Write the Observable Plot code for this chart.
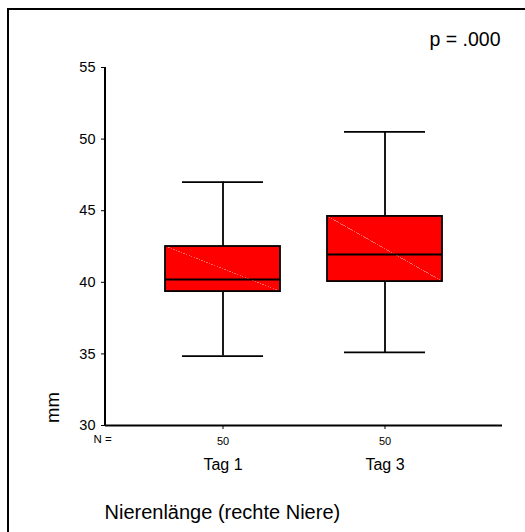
<!DOCTYPE html>
<html>
<head>
<meta charset="utf-8">
<script src="https://cdn.jsdelivr.net/npm/d3@7"></script>
<script src="https://cdn.jsdelivr.net/npm/@observablehq/plot@0.6"></script>
<style>
  html, body { margin: 0; padding: 0; background: #fff; }
  body { width: 525px; height: 532px; overflow: hidden; position: relative; font-family: "Liberation Sans", Arial, sans-serif; }
  #border { position: absolute; left: 7px; top: 8px; width: 540px; height: 560px; border: 2px solid #000; box-sizing: border-box; }
  #chart { position: absolute; left: 0; top: 0; }
</style>
</head>
<body>
<div id="border"></div>
<div id="chart"></div>
<script>
// Data
const groups   = ["Tag 1", "Tag 3"];
const nCounts  = [50, 50];
const whiskLow = [34.85, 35.1];
const q1       = [39.35, 40.05];
const medians  = [40.2, 41.95];
const q3       = [42.5, 44.6];
const whiskHigh= [47.0, 50.5];
const yTicks   = [30, 35, 40, 45, 50, 55];
const pLabel   = "p = .000";
const yLabel   = "mm";
const xTitle   = "Nierenlänge (rechte Niere)";

const rows = groups.map((g, i) => ({
  group: g, n: nCounts[i], lo: whiskLow[i], q1: q1[i], med: medians[i], q3: q3[i], hi: whiskHigh[i]
}));
const nByGroup = new Map(groups.map((g, i) => [g, nCounts[i]]));

const font = "Liberation Sans, Arial, sans-serif";

const axisLines = (index, scales, values, dims) => {
  const g = d3.create("svg:g");
  const x0 = dims.marginLeft;
  g.append("line")
    .attr("x1", x0).attr("x2", x0)
    .attr("y1", scales.y(55)).attr("y2", scales.y(30))
    .attr("stroke", "#000").attr("stroke-width", 2);
  return g.node();
};

const plot = Plot.plot({
  width: 525,
  height: 532,
  marginLeft: 105,
  marginRight: 23,
  marginTop: 67,
  marginBottom: 107,
  style: { fontFamily: font, background: "transparent", overflow: "visible" },
  x: { type: "band", domain: groups, paddingInner: 0.288, paddingOuter: 0.362 },
  y: { domain: [30, 55] },
  marks: [
    // whiskers
    Plot.ruleX(rows, { x: "group", y1: "lo", y2: "q1", stroke: "#000", strokeWidth: 1.8 }),
    Plot.ruleX(rows, { x: "group", y1: "q3", y2: "hi", stroke: "#000", strokeWidth: 1.8 }),
    Plot.tickY(rows, { x: "group", y: "lo", stroke: "#000", strokeWidth: 1.8, inset: 17 }),
    Plot.tickY(rows, { x: "group", y: "hi", stroke: "#000", strokeWidth: 1.8, inset: 17 }),
    // boxes
    Plot.barY(rows, { x: "group", y1: "q1", y2: "q3", fill: "url(#diagfill)", stroke: "#000", strokeWidth: 1.8 }),
    Plot.tickY(rows, { x: "group", y: "med", stroke: "#000", strokeWidth: 2 }),
    // axes
    Plot.ruleY([30], { stroke: "#000", strokeWidth: 2 }),
    axisLines,
    Plot.axisY({ ticks: yTicks, tickSize: 4, tickPadding: 6, fontSize: 14.5, label: null, tickFormat: d3.format("d"), stroke: "#000" }),
    Plot.axisX({ tickSize: 4, tickPadding: 8, fontSize: 11, label: null, tickFormat: g => String(nByGroup.get(g)) }),
    Plot.axisX({ tickSize: 0, tickPadding: 33, fontSize: 16, label: null }),
    // annotations
    Plot.text([pLabel], { frameAnchor: "top-right", dx: -2, dy: -35, fontSize: 19.5, textAnchor: "end", fill: "#000" }),
    Plot.text(["N ="], { frameAnchor: "bottom-left", dx: -12, dy: 17, fontSize: 11.5, textAnchor: "start", fill: "#000" }),
    Plot.text([yLabel], { frameAnchor: "bottom-left", dx: -47, dy: -18, fontSize: 18.5, rotate: -90, textAnchor: "middle", fill: "#000" }),
    Plot.text([xTitle], { frameAnchor: "bottom-left", dx: -1, dy: 93, fontSize: 20, textAnchor: "start", fill: "#000" })
  ]
});

// gradient that draws the thin pale diagonal across each box
const defs = d3.select(plot).insert("defs", ":first-child");
const grad = defs.append("linearGradient")
  .attr("id", "diagfill")
  .attr("x1", 1).attr("y1", 0).attr("x2", 0).attr("y2", 1);
[[0, "#ff0000"], [0.497, "#ff0000"], [0.497, "#ff6a6a"], [0.503, "#ff6a6a"], [0.503, "#ff0000"], [1, "#ff0000"]]
  .forEach(([o, c]) => grad.append("stop").attr("offset", o).attr("stop-color", c));

document.getElementById("chart").appendChild(plot);
</script>
</body>
</html>
